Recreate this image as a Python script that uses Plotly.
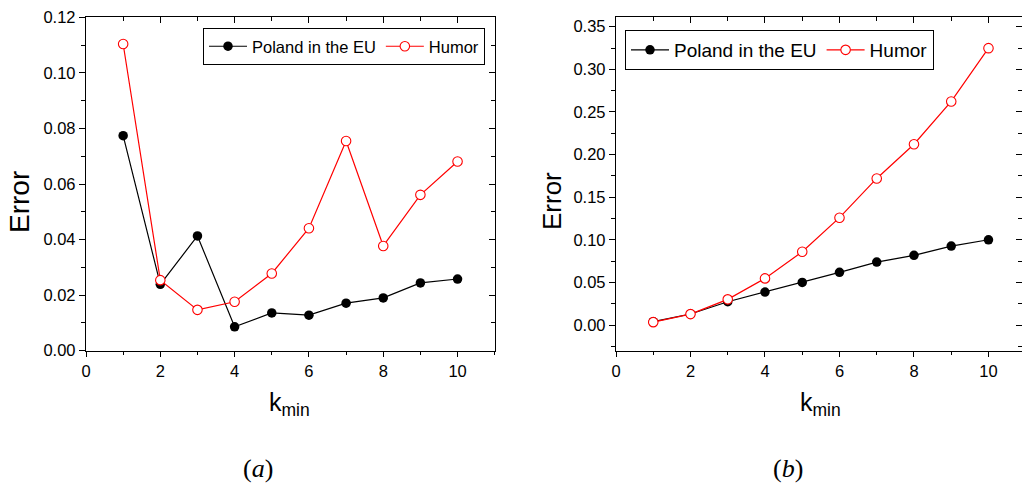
import plotly.graph_objects as go

# k_min values shared by both panels
k_min = [1, 2, 3, 4, 5, 6, 7, 8, 9, 10]

# Panel (a): error per k_min
poland_a = [0.0774, 0.0239, 0.0413, 0.0086, 0.0136, 0.0128, 0.0171, 0.0190, 0.0244, 0.0258]
humor_a = [0.1104, 0.0254, 0.0147, 0.0176, 0.0278, 0.0441, 0.0755, 0.0377, 0.0561, 0.0681]

# Panel (b): error per k_min
poland_b = [0.0040, 0.0130, 0.0274, 0.0387, 0.0501, 0.0619, 0.0739, 0.0818, 0.0927, 0.1001]
humor_b = [0.0035, 0.0129, 0.0302, 0.0548, 0.0860, 0.1260, 0.1720, 0.2121, 0.2623, 0.3248]

series_names = ["Poland in the EU", "Humor"]
panel_labels = ["(<i>a</i>)", "(<i>b</i>)"]

W, H = 1022, 484
FONT = "Liberation Sans, Arial, sans-serif"


def px_x(v):
    return v / W


def px_y(v):
    return 1 - v / H


fig = go.Figure()


def add_pair(xa, ya, poland, humor, legend, size):
    fig.add_trace(go.Scatter(
        x=k_min, y=poland, name=series_names[0], mode="lines+markers",
        xaxis=xa, yaxis=ya, legend=legend,
        line=dict(color="black", width=1.2),
        marker=dict(symbol="circle", size=size, color="black", line=dict(width=0)),
    ))
    fig.add_trace(go.Scatter(
        x=k_min, y=humor, name=series_names[1], mode="lines+markers",
        xaxis=xa, yaxis=ya, legend=legend,
        line=dict(color="#ff0000", width=1.2),
        marker=dict(symbol="circle", size=size, color="white",
                    line=dict(color="#ff0000", width=1.1)),
    ))


add_pair("x", "y", poland_a, humor_a, "legend", 9.5)
add_pair("x2", "y2", poland_b, humor_b, "legend2", 9.5)

# empty traces so the top/right tick axes get their own subplots and are drawn
for xa, ya in [("x3", "y"), ("x", "y3"), ("x4", "y2"), ("x2", "y4")]:
    fig.add_trace(go.Scatter(x=[], y=[], xaxis=xa, yaxis=ya, showlegend=False,
                             hoverinfo="skip", mode="markers"))

tickfont = dict(family=FONT, size=16.5, color="black")
line_style = dict(showline=True, linecolor="black", linewidth=1.3,
                  showgrid=False, zeroline=False, automargin=False)

dom_y = [px_y(350.7), px_y(17.3)]
dom_a = [px_x(86), px_x(494.7)]
dom_b = [px_x(616), 1.0]

x_range_a = [0, 11]
x_range_b = [0, 10.9]
y_range_a = [0, 0.12]
y_range_b = [-0.03, 0.361]


def x_main(domain, rng, anchor, mirror):
    return dict(domain=domain, range=rng, anchor=anchor, dtick=2, tick0=0,
                ticks="outside", ticklen=5, tickwidth=1.3, tickcolor="black",
                minor=dict(dtick=1, ticks="outside", ticklen=3, tickwidth=1.3, tickcolor="black"),
                tickfont=tickfont, mirror=mirror, **line_style)


def y_main(domain, rng, anchor, dtick, minor, mirror):
    return dict(domain=domain, range=rng, anchor=anchor, dtick=dtick, tick0=0,
                tickformat=".2f", ticks="outside", ticklen=6, tickwidth=1.3, tickcolor="black",
                minor=dict(dtick=minor, ticks="outside", ticklen=4, tickwidth=1.3, tickcolor="black"),
                tickfont=tickfont, mirror=mirror, **line_style)


def x_top(over, rng, anchor):
    return dict(overlaying=over, side="top", anchor=anchor, range=rng, dtick=2, tick0=0,
                ticks="inside", ticklen=6, tickwidth=1.3, tickcolor="black",
                minor=dict(dtick=1, ticks="inside", ticklen=4, tickwidth=1.3, tickcolor="black"),
                showticklabels=False, showline=False, showgrid=False, zeroline=False,
                automargin=False)


def y_right(over, rng, anchor, dtick, minor):
    return dict(overlaying=over, side="right", anchor=anchor, range=rng, dtick=dtick, tick0=0,
                ticks="inside", ticklen=6, tickwidth=1.3, tickcolor="black",
                minor=dict(dtick=minor, ticks="inside", ticklen=4, tickwidth=1.3, tickcolor="black"),
                showticklabels=False, showline=False, showgrid=False, zeroline=False,
                automargin=False)


legend_common = dict(orientation="h", bordercolor="black", borderwidth=1, bgcolor="white",
                     yanchor="top", tracegroupgap=0, itemwidth=38)

fig.update_layout(
    width=W, height=H,
    margin=dict(l=0, r=0, t=0, b=0, pad=0),
    paper_bgcolor="white", plot_bgcolor="white",
    font=dict(family=FONT, color="black"),
    xaxis=x_main(dom_a, x_range_a, "y", True),
    yaxis=y_main(dom_y, y_range_a, "x", 0.02, 0.01, True),
    xaxis2=x_main(dom_b, x_range_b, "y2", True),
    yaxis2=y_main(dom_y, y_range_b, "x2", 0.05, 0.025, False),
    xaxis3=x_top("x", x_range_a, "y"),
    yaxis3=y_right("y", y_range_a, "x", 0.02, 0.01),
    xaxis4=x_top("x2", x_range_b, "y2"),
    yaxis4=y_right("y2", y_range_b, "x2", 0.05, 0.025),
    legend=dict(x=px_x(485), y=px_y(28), xanchor="right",
                font=dict(family=FONT, size=16.5, color="black"), **legend_common),
    legend2=dict(x=px_x(625), y=px_y(30), xanchor="left",
                 font=dict(family=FONT, size=19, color="black"), **legend_common),
    showlegend=True,
)

annotations = [
    dict(text="Error", x=px_x(19), y=px_y(202), textangle=-90, font=dict(family=FONT, size=28)),
    dict(text="Error", x=px_x(552), y=px_y(201), textangle=-90, font=dict(family=FONT, size=26)),
    dict(text="k<sub>min</sub>", x=px_x(289), y=px_y(404), font=dict(family=FONT, size=25)),
    dict(text="k<sub>min</sub>", x=px_x(820), y=px_y(404), font=dict(family=FONT, size=25)),
    dict(text=panel_labels[0], x=px_x(257.5), y=px_y(468),
         font=dict(family="Liberation Serif, DejaVu Serif, serif", size=26)),
    dict(text=panel_labels[1], x=px_x(788), y=px_y(468),
         font=dict(family="Liberation Serif, DejaVu Serif, serif", size=26)),
]
for a in annotations:
    a.update(xref="paper", yref="paper", showarrow=False, xanchor="center", yanchor="middle")
    a["font"]["color"] = "black"
fig.update_layout(annotations=annotations)

fig.write_html("out.html")
